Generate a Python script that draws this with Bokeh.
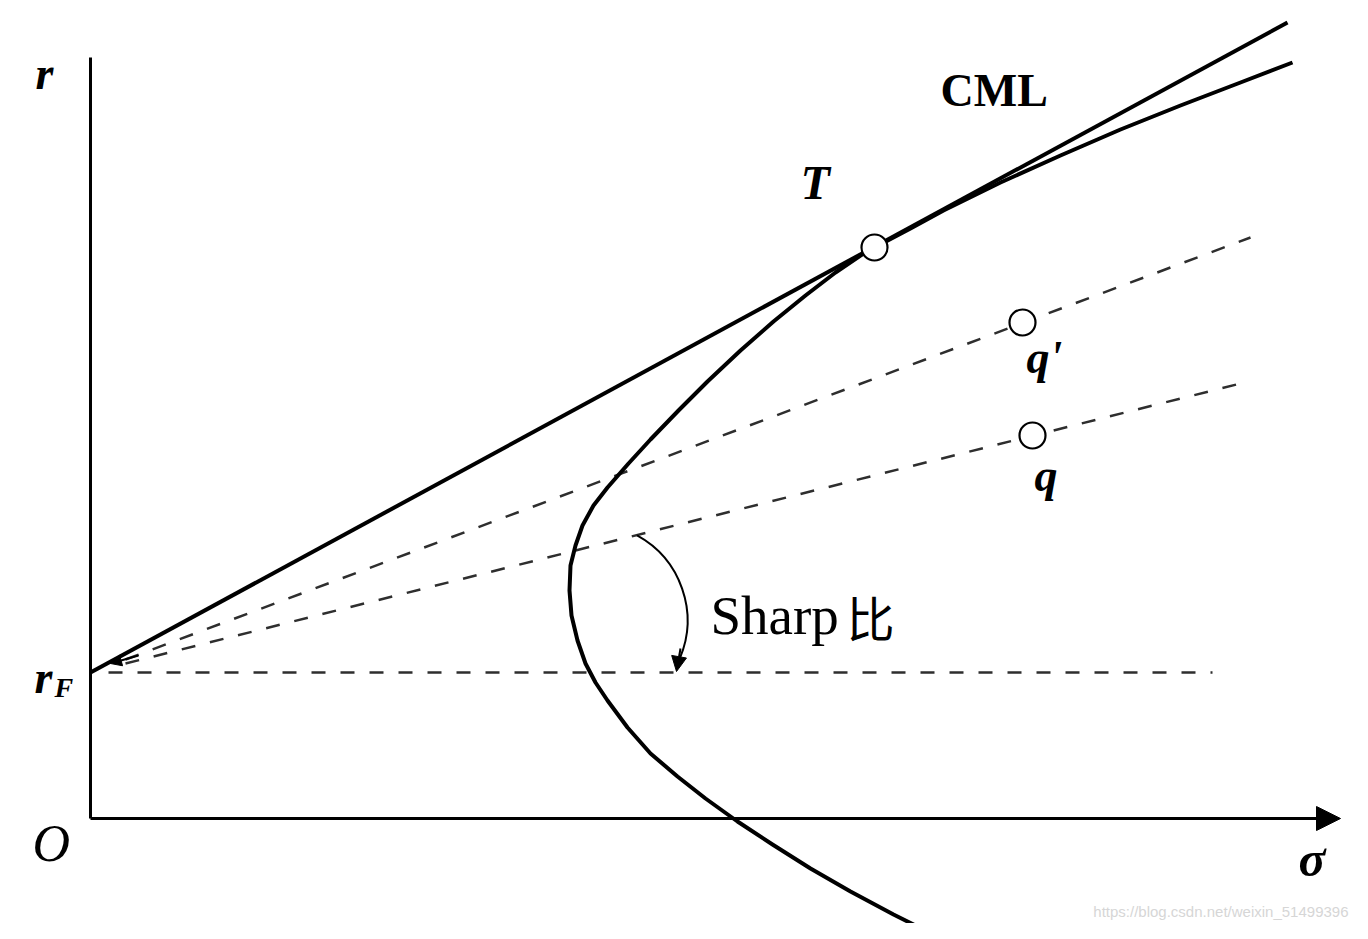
from bokeh.plotting import figure
from bokeh.models import Range1d, Arrow, NormalHead
from bokeh.core.properties import value
from bokeh.embed import file_html
from bokeh.resources import INLINE

# ---- data (sigma, r) ----
r_f = 1.46
frontier_sigma = [8.53, 8.03, 7.60, 7.20, 6.82, 6.47, 6.15, 5.87, 5.60, 5.37, 5.17, 5.05,
                  4.95, 4.87, 4.81, 4.79, 4.80, 4.85, 4.92, 5.03, 5.17, 5.38, 5.60, 5.88,
                  6.17, 6.50, 6.83, 7.15, 7.45, 7.70, 7.84, 8.20, 8.53, 9.10, 9.70, 10.30,
                  10.90, 11.50, 12.02]
frontier_r = [-1.21, -0.96, -0.73, -0.50, -0.26, -0.03, 0.20, 0.42, 0.65, 0.91, 1.18, 1.36,
              1.55, 1.78, 2.03, 2.28, 2.53, 2.73, 2.93, 3.13, 3.31, 3.55, 3.79, 4.08,
              4.37, 4.68, 4.97, 5.23, 5.46, 5.63, 5.71, 5.90, 6.08, 6.36, 6.63, 6.89,
              7.13, 7.36, 7.56]
cml_sigma = [0.0, 11.97]
cml_r = [1.46, 7.96]
qp_line_sigma = [0.35, 11.60]
qp_line_r = [1.59, 5.81]
q_line_sigma = [0.35, 11.50]
q_line_r = [1.55, 4.35]
rf_line_sigma = [0.18, 11.22]
rf_line_r = [1.46, 1.46]
point_names = ["T", "q'", "q"]
point_sigma = [7.84, 9.32, 9.42]
point_r = [5.71, 4.96, 3.83]
y_axis_top = 7.61
x_axis_end = 12.50

SERIF = "Liberation Serif"
DY = 0.15  # text baseline correction

p = figure(width=1352, height=923, output_backend="svg", toolbar_location=None,
           x_range=Range1d(-0.90, 12.62), y_range=Range1d(-1.05, 8.18),
           x_axis_type=None, y_axis_type=None, min_border=0)
p.grid.visible = False
p.outline_line_color = None
p.background_fill_color = "white"

# axes
p.line([0, 0], [0, y_axis_top], line_color="black", line_width=3)
p.add_layout(Arrow(x_start=0, y_start=0, x_end=x_axis_end, y_end=0, line_width=3,
                   line_color="black",
                   end=NormalHead(size=24, fill_color="black", line_color="black", line_width=1)))

# dashed lines
for xs, ys in [(rf_line_sigma, rf_line_r), (qp_line_sigma, qp_line_r), (q_line_sigma, q_line_r)]:
    p.line(xs, ys, line_color="#2e2e2e", line_width=2.5, line_dash="14 15")

# frontier and CML
p.line(frontier_sigma, frontier_r, line_color="black", line_width=4, line_join="round")
p.line(cml_sigma, cml_r, line_color="black", line_width=4)

# Sharpe ratio arc arrow
p.arc(x=[5.00], y=[1.98], radius=0.97, start_angle=-0.40, end_angle=1.07,
      direction="anticlock", line_color="black", line_width=2)
p.add_layout(Arrow(x_start=5.90, y_start=1.70, x_end=5.86, y_end=1.47, line_width=2,
                   line_color="black",
                   end=NormalHead(size=15, fill_color="black", line_color="black")))
# small arrow near r_F
p.add_layout(Arrow(x_start=0.48, y_start=1.63, x_end=0.20, y_end=1.55, line_width=2,
                   line_color="black",
                   end=NormalHead(size=11, fill_color="black", line_color="black")))

# circles
p.scatter(point_sigma, point_r, marker="circle", size=26, fill_color="white",
          line_color="black", line_width=2.2)

# labels
def label(x, y, t, size, style="normal", font=SERIF, align="left", color="black"):
    p.text([x], [y + DY], text=[t], text_font=value(font), text_font_size=f"{size}px",
           text_font_style=style, text_align=align, text_baseline="alphabetic",
           text_color=color)

label(-0.55, 7.30, "r", 46, "bold italic")
label(-0.56, 1.26, "r", 46, "bold italic")
label(-0.36, 1.16, "F", 28, "bold italic")
label(-0.58, -0.40, "O", 52, "italic")
label(12.08, -0.55, "σ", 50, "bold italic")
label(8.50, 7.13, "CML", 46, "bold")
label(7.10, 6.21, point_names[0], 48, "bold italic")
label(9.36, 4.46, point_names[1], 46, "bold italic")
label(9.44, 3.28, point_names[2], 46, "bold italic")
label(6.20, 1.88, "Sharp", 55, "normal")
label(7.56, 1.88, "比", 48, "normal", font="Noto Sans CJK SC")
p.text([12.58], [-0.93], text=["https://blog.csdn.net/weixin_51499396"],
       text_font=value("Liberation Sans"), text_font_size="15px", text_align="right",
       text_baseline="alphabetic", text_color="#d6d6d6")

open("out.html", "w").write(file_html(p, INLINE))
